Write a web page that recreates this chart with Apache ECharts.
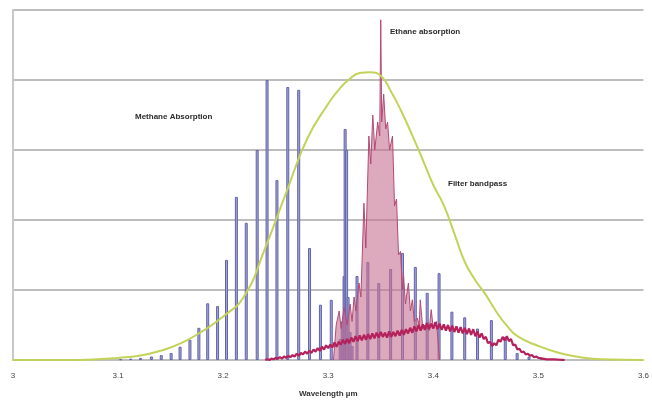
<!DOCTYPE html>
<html>
<head>
<meta charset="utf-8">
<script src="https://cdn.jsdelivr.net/npm/echarts@6/dist/echarts.min.js"></script>
<style>html,body{margin:0;padding:0;background:#fff}#c{width:652px;height:406px}</style>
</head>
<body>
<div id="c"></div>
<script>
// Tick labels (wavelength, µm)
var xTickLabels = ['3', '3.1', '3.2', '3.3', '3.4', '3.5', '3.6'];

// Methane absorption lines: wavelength (µm) and strength
var methaneW = [3.1025, 3.1120, 3.1214, 3.1317, 3.1411, 3.1505, 3.1590, 3.1684, 3.1769, 3.1853, 3.1947, 3.2032, 3.2126, 3.2220, 3.2324, 3.2418, 3.2512, 3.2615, 3.2719, 3.2822, 3.2926, 3.3029,
  3.3114, 3.3133, 3.3151, 3.3161, 3.3175, 3.3189, 3.3208, 3.3227,
  3.3274, 3.3377, 3.3481, 3.3594, 3.3707, 3.3829, 3.3942, 3.4055, 3.4177, 3.4299, 3.4421, 3.4553, 3.4685, 3.4798, 3.4911, 3.5033];
var methaneV = [0.01, 0.02, 0.03, 0.05, 0.07, 0.10, 0.19, 0.29, 0.46, 0.81, 0.77, 1.43, 2.33, 1.96, 3.00, 4.00, 2.57, 3.90, 3.86, 1.60, 0.79, 0.86,
  0.30, 0.55, 1.20, 3.30, 3.00, 0.90, 0.40, 0.20,
  1.20, 1.40, 1.10, 1.30, 1.53, 1.33, 0.96, 1.24, 0.69, 0.61, 0.45, 0.57, 0.33, 0.10, 0.05, 0.03];

// Ethane absorption: sharp band (spikes) near 3.35 µm
var ethaneSpikeW = [3.3050, 3.3076, 3.3104, 3.3123, 3.3151, 3.3180, 3.3208, 3.3227, 3.3246, 3.3264, 3.3293, 3.3311, 3.3340, 3.3358, 3.3387, 3.3405, 3.3424, 3.3443, 3.3471, 3.3490, 3.3500, 3.3509, 3.3528, 3.3547, 3.3565, 3.3584, 3.3612, 3.3631, 3.3650, 3.3669, 3.3688, 3.3706, 3.3716, 3.3735, 3.3763, 3.3782, 3.3801, 3.3819, 3.3848, 3.3866, 3.3876, 3.3900, 3.3920, 3.3960, 3.3980, 3.4000, 3.4030, 3.4060];
var ethaneSpikeV = [0.00, 0.50, 0.70, 0.45, 0.75, 0.50, 0.80, 0.55, 0.90, 0.70, 1.10, 0.90, 2.24, 1.60, 3.20, 2.80, 3.50, 3.00, 3.40, 3.20, 4.86, 3.40, 3.80, 3.30, 3.40, 3.00, 3.20, 2.20, 2.30, 1.50, 1.55, 1.00, 1.24, 0.80, 1.10, 0.70, 0.86, 0.55, 0.60, 0.50, 0.86, 0.45, 0.50, 0.42, 0.72, 0.45, 0.55, 0.00];

// Ethane absorption: broad noisy continuum
var ethaneContW = [3.240, 3.242, 3.244, 3.246, 3.248, 3.250, 3.252, 3.254, 3.256, 3.258, 3.260, 3.262, 3.264, 3.266, 3.268, 3.270, 3.272, 3.274, 3.276, 3.278, 3.280, 3.282, 3.284, 3.286, 3.288, 3.290, 3.292, 3.294, 3.296, 3.298,
  3.300, 3.302, 3.304, 3.306, 3.308, 3.310, 3.312, 3.314, 3.316, 3.318, 3.320, 3.322, 3.324, 3.326, 3.328, 3.330, 3.332, 3.334, 3.336, 3.338, 3.340, 3.342, 3.344, 3.346, 3.348, 3.350, 3.352, 3.354, 3.356, 3.358,
  3.360, 3.362, 3.364, 3.366, 3.368, 3.370, 3.372, 3.374, 3.376, 3.378, 3.380, 3.382, 3.384, 3.386, 3.388, 3.390, 3.392, 3.394, 3.396, 3.398, 3.400, 3.402, 3.404, 3.406, 3.408, 3.410, 3.412, 3.414, 3.416, 3.418,
  3.420, 3.422, 3.424, 3.426, 3.428, 3.430, 3.432, 3.434, 3.436, 3.438, 3.440, 3.442, 3.444, 3.446, 3.448, 3.450, 3.452, 3.454, 3.456, 3.458, 3.460, 3.462, 3.464, 3.466, 3.468, 3.470, 3.472, 3.474, 3.476, 3.478,
  3.480, 3.482, 3.484, 3.486, 3.488, 3.490, 3.492, 3.494, 3.496, 3.498, 3.500, 3.504, 3.508, 3.515, 3.525];
var ethaneContV = [0.00, 0.01, 0.00, 0.02, 0.01, 0.03, 0.02, 0.04, 0.02, 0.05, 0.03, 0.06, 0.04, 0.07, 0.05, 0.09, 0.06, 0.10, 0.08, 0.12, 0.09, 0.13, 0.10, 0.15, 0.12, 0.17, 0.13, 0.19, 0.15, 0.21,
  0.17, 0.22, 0.18, 0.25, 0.19, 0.26, 0.22, 0.29, 0.23, 0.30, 0.24, 0.32, 0.26, 0.34, 0.27, 0.35, 0.28, 0.36, 0.29, 0.37, 0.30, 0.38, 0.31, 0.39, 0.32, 0.40, 0.33, 0.39, 0.32, 0.41,
  0.33, 0.40, 0.34, 0.42, 0.35, 0.43, 0.36, 0.44, 0.38, 0.46, 0.39, 0.48, 0.41, 0.50, 0.42, 0.51, 0.43, 0.53, 0.44, 0.52, 0.45, 0.54, 0.44, 0.52, 0.43, 0.51, 0.42, 0.50, 0.41, 0.49,
  0.40, 0.48, 0.39, 0.47, 0.38, 0.46, 0.37, 0.45, 0.36, 0.44, 0.34, 0.41, 0.32, 0.38, 0.30, 0.33, 0.24, 0.26, 0.20, 0.24, 0.21, 0.29, 0.26, 0.33, 0.28, 0.34, 0.27, 0.30, 0.21, 0.22,
  0.15, 0.16, 0.11, 0.12, 0.08, 0.09, 0.06, 0.07, 0.04, 0.05, 0.03, 0.02, 0.01, 0.01, 0.00];

// Filter bandpass
var filterW = [3.00, 3.05, 3.08, 3.10, 3.12, 3.14, 3.16, 3.18, 3.20, 3.22, 3.24, 3.26, 3.28, 3.30, 3.31, 3.32, 3.33, 3.34, 3.35, 3.36, 3.37, 3.38, 3.39, 3.40, 3.41, 3.42, 3.43, 3.44, 3.45, 3.46, 3.47, 3.48, 3.50, 3.52, 3.54, 3.56, 3.60];
var filterV = [0.00, 0.00, 0.01, 0.03, 0.06, 0.13, 0.24, 0.41, 0.62, 0.91, 1.60, 2.39, 3.16, 3.66, 3.86, 4.01, 4.10, 4.11, 4.06, 3.83, 3.54, 3.21, 2.86, 2.50, 2.21, 1.81, 1.40, 1.14, 0.93, 0.69, 0.49, 0.34, 0.20, 0.10, 0.04, 0.01, 0.00];

function pairs(a, b) { return a.map(function (x, i) { return [x, b[i]]; }); }

var chart = echarts.init(document.getElementById('c'), null, { renderer: 'canvas' });
var txt = { fontFamily: 'Liberation Sans, Arial, sans-serif', fontSize: 8, fontWeight: 'bold', fill: '#2a2a2a' };
chart.setOption({
  animation: false,
  backgroundColor: '#ffffff',
  grid: { left: 13, right: 2, top: 10, bottom: 46, containLabel: false },
  xAxis: {
    type: 'value', min: 3, max: 3.6, interval: 0.1,
    axisLine: { show: true, lineStyle: { color: '#c0c0c0', width: 1 } },
    axisTick: { show: false },
    splitLine: { show: false },
    axisLabel: {
      fontFamily: 'Liberation Sans, Arial, sans-serif', fontSize: 8, color: '#444', margin: 12,
      formatter: function (v) { return xTickLabels[Math.round((v - 3) * 10)]; }
    },
    name: 'Wavelength µm', nameLocation: 'middle', nameGap: 30,
    nameTextStyle: { fontFamily: 'Liberation Sans, Arial, sans-serif', fontSize: 8, fontWeight: 'bold', color: '#333' }
  },
  yAxis: {
    type: 'value', min: 0, max: 5, interval: 1,
    axisLine: { show: true, lineStyle: { color: '#c8c8c8', width: 2 } },
    axisTick: { show: false },
    axisLabel: { show: false },
    splitLine: { show: true, lineStyle: { color: '#bdbdbd', width: 2 } }
  },
  series: [
    {
      name: 'Methane', type: 'bar', barWidth: 3, z: 2,
      data: pairs(methaneW, methaneV),
      itemStyle: { color: '#a3a3d4', borderColor: '#6464ac', borderWidth: 1 }
    },
    {
      name: 'Ethane band', type: 'line', z: 3, symbol: 'none',
      data: pairs(ethaneSpikeW, ethaneSpikeV),
      lineStyle: { color: '#b34a74', width: 1 },
      areaStyle: { color: 'rgba(198,112,144,0.85)' }
    },
    {
      name: 'Ethane continuum', type: 'line', z: 4, symbol: 'none',
      data: pairs(ethaneContW, ethaneContV),
      lineStyle: { color: '#b4215b', width: 2.2 }
    },
    {
      name: 'Filter', type: 'line', z: 5, symbol: 'none', smooth: true,
      data: pairs(filterW, filterV),
      lineStyle: { color: '#c3d35a', width: 2 }
    }
  ],
  graphic: [
    { type: 'text', left: 135, top: 113, style: Object.assign({ text: 'Methane Absorption' }, txt) },
    { type: 'text', left: 390, top: 28, style: Object.assign({ text: 'Ethane absorption' }, txt) },
    { type: 'text', left: 448, top: 180, style: Object.assign({ text: 'Filter bandpass' }, txt) }
  ]
});
</script>
</body>
</html>
